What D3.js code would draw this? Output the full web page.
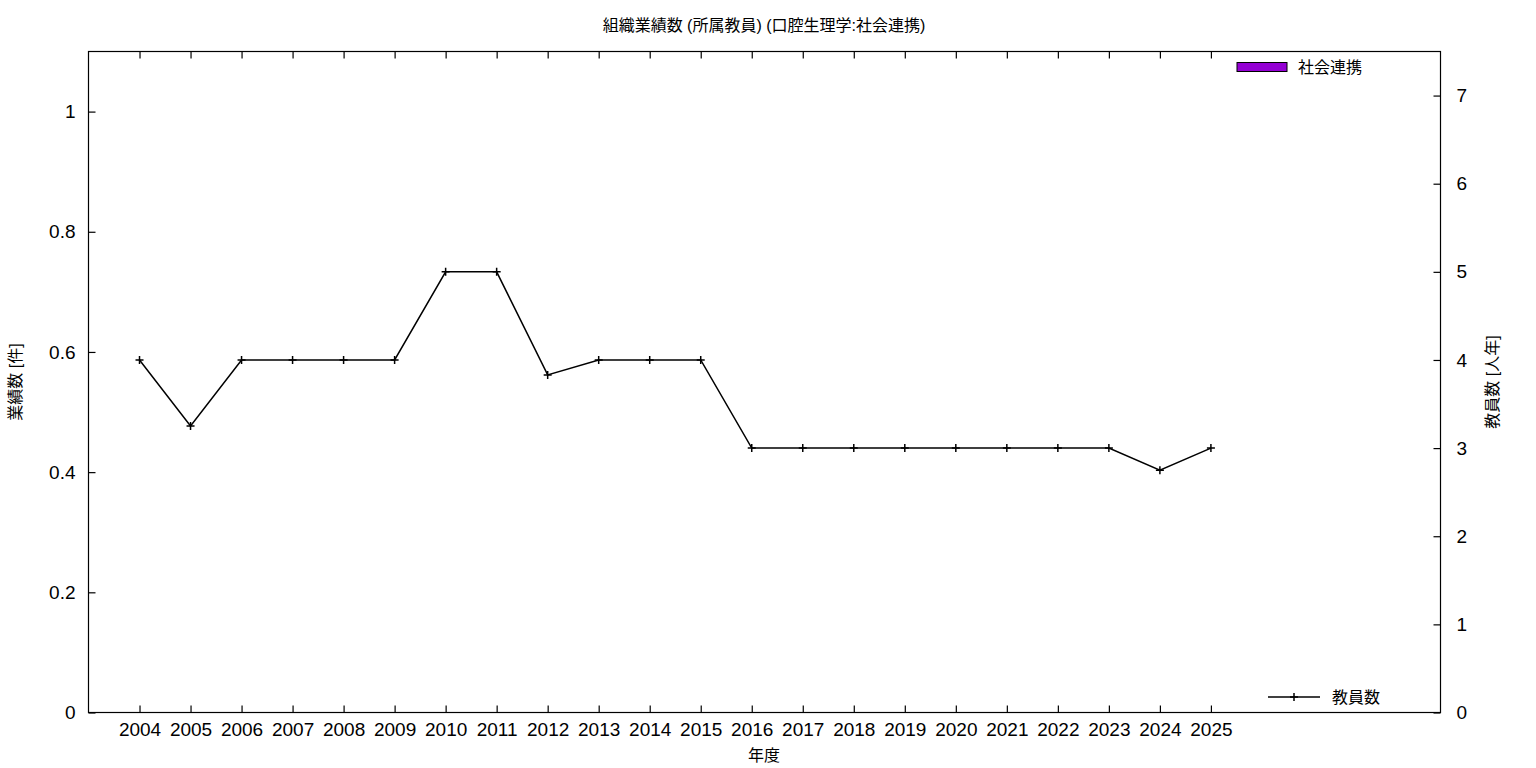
<!DOCTYPE html>
<html><head><meta charset="utf-8">
<script src="https://cdn.jsdelivr.net/npm/d3@7"></script>
<style>
body{margin:0;background:#fff;}
text{font-family:"Liberation Sans","Noto Sans CJK JP",sans-serif;fill:#000;}
</style></head>
<body><svg id="c" width="1536" height="768"></svg>
<script>
const years = [2004,2005,2006,2007,2008,2009,2010,2011,2012,2013,2014,2015,2016,2017,2018,2019,2020,2021,2022,2023,2024,2025];
const staff = [4,3.25,4,4,4,4,5,5,3.83,4,4,4,3,3,3,3,3,3,3,3,2.75,3];
const leftTicks = [0,0.2,0.4,0.6,0.8,1];
const rightTicks = [0,1,2,3,4,5,6,7];
const title = "組織業績数 (所属教員) (口腔生理学:社会連携)";
const seriesName = "社会連携";
const lineName = "教員数";

const svg = d3.select("#c");
const L=88.5, R=1440.5, T=51.5, B=712.5;
const x = d3.scaleLinear().domain([2003,2029.5]).range([L,R]);
const y = d3.scaleLinear().domain([0,1.1]).range([B,T]);
const y2 = d3.scaleLinear().domain([0,7.5]).range([B,T]);
const tl = 7;

svg.append("rect").attr("x",L).attr("y",T).attr("width",R-L).attr("height",B-T)
  .attr("fill","none").attr("stroke","#000").attr("stroke-width",1.2);

const fmtL = d => d===0?"0":(d===1?"1":d3.format(".1f")(d));
const gL = svg.append("g").attr("transform",`translate(${L},0)`)
  .call(d3.axisLeft(y).tickValues(leftTicks).tickSize(-tl).tickPadding(13).tickFormat(fmtL));
const gR = svg.append("g").attr("transform",`translate(${R},0)`)
  .call(d3.axisRight(y2).tickValues(rightTicks).tickSize(-tl).tickPadding(16));
const gB = svg.append("g").attr("transform",`translate(0,${B})`)
  .call(d3.axisBottom(x).tickValues(years).tickSize(-tl).tickPadding(10).tickFormat(d3.format("d")));
const gT = svg.append("g").attr("transform",`translate(0,${T})`)
  .call(d3.axisTop(x).tickValues(years).tickSize(-tl).tickFormat(""));
[gL,gR,gB,gT].forEach(g=>{
  g.select(".domain").remove();
  g.selectAll(".tick line").attr("stroke","#000").attr("stroke-width",1.2);
  g.selectAll("text").attr("font-size",19).attr("fill","#000")
    .attr("font-family","'Liberation Sans','Noto Sans CJK JP',sans-serif");
});

const line = d3.line().x((d,i)=>x(years[i])).y(d=>y2(d));
svg.append("path").datum(staff).attr("d",line).attr("fill","none")
  .attr("stroke","#000").attr("stroke-width",1.5);
const cross = (g,cx,cy)=>{
  g.append("path").attr("d",`M${cx-4},${cy}H${cx+4}M${cx},${cy-4}V${cy+4}`)
   .attr("stroke","#000").attr("stroke-width",1.5);
};
const pg = svg.append("g");
staff.forEach((v,i)=>cross(pg,x(years[i]),y2(v)));

svg.append("text").attr("x",764).attr("y",31).attr("text-anchor","middle")
  .attr("font-size",16).text(title);
svg.append("text").attr("x",764).attr("y",761).attr("text-anchor","middle")
  .attr("font-size",16).text("年度");
svg.append("text").attr("transform","translate(21,382) rotate(-90)").attr("text-anchor","middle")
  .attr("font-size",16).text("業績数 [件]");
svg.append("text").attr("transform","translate(1498,382) rotate(-90)").attr("text-anchor","middle")
  .attr("font-size",16).text("教員数 [人年]");

svg.append("rect").attr("x",1237).attr("y",62.5).attr("width",50).attr("height",9)
  .attr("fill","#9400d3").attr("stroke","#000").attr("stroke-width",1);
svg.append("text").attr("x",1298).attr("y",73).attr("font-size",16).text(seriesName);
svg.append("path").attr("d","M1268,697H1320").attr("stroke","#000").attr("stroke-width",1.5);
cross(svg,1294,697);
svg.append("text").attr("x",1332).attr("y",703).attr("font-size",16).text(lineName);
</script></body></html>
